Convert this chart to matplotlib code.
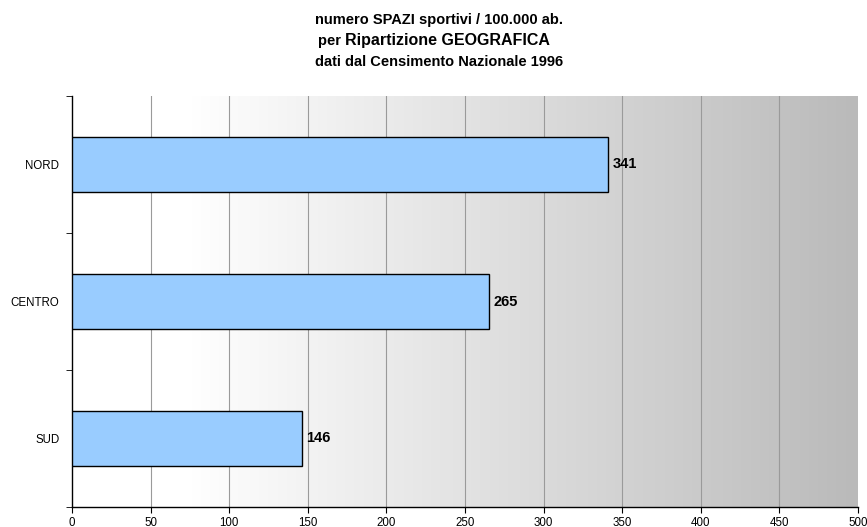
import matplotlib.pyplot as plt
import numpy as np
from matplotlib.colors import LinearSegmentedColormap

plt.rcParams['font.family'] = ['Liberation Sans', 'DejaVu Sans']

categories = ["NORD", "CENTRO", "SUD"]
values = [341, 265, 146]
xticks = [0, 50, 100, 150, 200, 250, 300, 350, 400, 450, 500]

fig = plt.figure(figsize=(8.67, 5.27), dpi=100)
ax = fig.add_axes([72 / 867, 20 / 527, 786 / 867, 411 / 527])

# background gradient, white on the left to grey on the right
grad = np.linspace(0, 1, 256).reshape(1, -1)
cmap = LinearSegmentedColormap.from_list("bg", [(0, "#ffffff"), (0.15, "#ffffff"), (1, "#bababa")])
ax.imshow(grad, extent=[0, 500, -0.5, 2.5], aspect="auto", cmap=cmap, zorder=0)

y = np.arange(len(categories))[::-1]
ax.barh(y, values, height=0.4, color="#99ccff", edgecolor="black", linewidth=1, zorder=3)
for yi, v in zip(y, values):
    ax.text(v + 3, yi, str(v), va="center", ha="left", fontsize=10.5, fontweight="bold", zorder=4)

ax.set_xlim(0, 500)
ax.set_ylim(-0.5, 2.5)
ax.set_xticks(xticks)
ax.set_xticklabels([str(t) for t in xticks], fontsize=8.3)
ax.set_yticks(y)
ax.set_yticklabels(categories, fontsize=8.3)
ax.set_yticks([-0.5, 0.5, 1.5, 2.5], minor=True)
ax.tick_params(axis="y", which="major", length=0, pad=9)
ax.tick_params(axis="y", which="minor", length=4, direction="out")
ax.tick_params(axis="x", length=4, direction="out", pad=3)
for t in xticks[1:-1]:
    ax.axvline(t, color="#9a9a9a", linewidth=0.8, zorder=1)

for s in ["top", "right"]:
    ax.spines[s].set_visible(False)
for s in ["left", "bottom"]:
    ax.spines[s].set_color("black")
    ax.spines[s].set_linewidth(1)

cx = 439 / 867
fig.text(cx, 1 - 20 / 527, "numero SPAZI sportivi / 100.000 ab.", ha="center", va="center",
         fontsize=10.5, fontweight="bold")
fig.text(345 / 867, 1 - 41 / 527, "per ", ha="right", va="center", fontsize=10.5, fontweight="bold")
fig.text(345 / 867, 1 - 41 / 527, "Ripartizione GEOGRAFICA", ha="left", va="center",
         fontsize=11.5, fontweight="bold")
fig.text(cx, 1 - 62 / 527, "dati dal Censimento Nazionale 1996", ha="center", va="center",
         fontsize=10.5, fontweight="bold")

fig.savefig("out.png", dpi=100)
